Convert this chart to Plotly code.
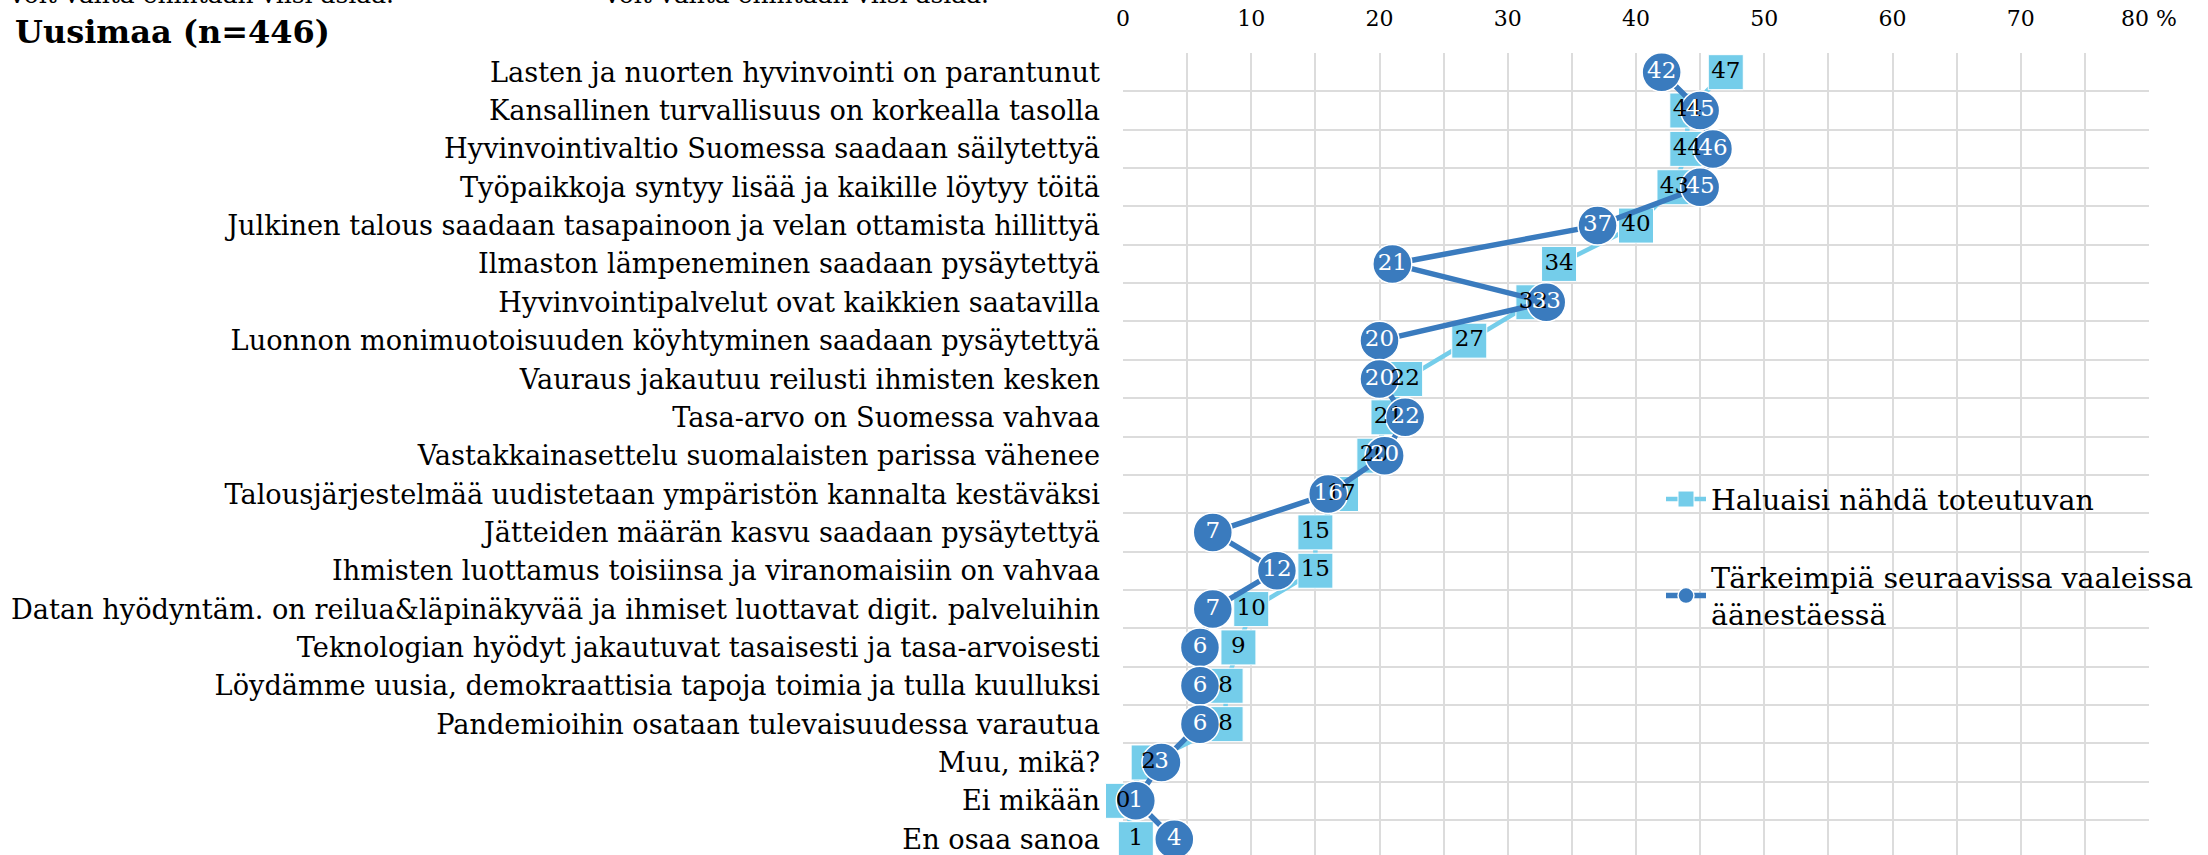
import plotly.graph_objects as go

# Statements, top to bottom
categories = [
    "Lasten ja nuorten hyvinvointi on parantunut",
    "Kansallinen turvallisuus on korkealla tasolla",
    "Hyvinvointivaltio Suomessa saadaan säilytettyä",
    "Työpaikkoja syntyy lisää ja kaikille löytyy töitä",
    "Julkinen talous saadaan tasapainoon ja velan ottamista hillittyä",
    "Ilmaston lämpeneminen saadaan pysäytettyä",
    "Hyvinvointipalvelut ovat kaikkien saatavilla",
    "Luonnon monimuotoisuuden köyhtyminen saadaan pysäytettyä",
    "Vauraus jakautuu reilusti ihmisten kesken",
    "Tasa-arvo on Suomessa vahvaa",
    "Vastakkainasettelu suomalaisten parissa vähenee",
    "Talousjärjestelmää uudistetaan ympäristön kannalta kestäväksi",
    "Jätteiden määrän kasvu saadaan pysäytettyä",
    "Ihmisten luottamus toisiinsa ja viranomaisiin on vahvaa",
    "Datan hyödyntäm. on reilua&läpinäkyvää ja ihmiset luottavat digit. palveluihin",
    "Teknologian hyödyt jakautuvat tasaisesti ja tasa-arvoisesti",
    "Löydämme uusia, demokraattisia tapoja toimia ja tulla kuulluksi",
    "Pandemioihin osataan tulevaisuudessa varautua",
    "Muu, mikä?",
    "Ei mikään",
    "En osaa sanoa",
]

# Share of respondents (%)
haluaisi = [47, 44, 44, 43, 40, 34, 32, 27, 22, 20.7, 19.6, 17, 15, 15, 10, 9, 8, 8, 2, 0, 1]
tarkeimpia = [42, 45, 46, 45, 37, 21, 33, 20, 20, 22, 20.4, 16, 7, 12, 7, 6, 6, 6, 3, 1, 4]

name_haluaisi = "Haluaisi nähdä toteutuvan"
name_tarkeimpia = "Tärkeimpiä seuraavissa vaaleissa<br>äänestäessä"

x_ticks = [0, 10, 20, 30, 40, 50, 60, 70, 80]
x_ticktext = ["0", "10", "20", "30", "40", "50", "60", "70", "80 %"]

LIGHT = "#74CDEA"
DARK = "#3A7BBE"
SERIF = "DejaVu Serif"

rows = list(range(len(categories)))


def labels(values):
    return [str(int(round(v))) for v in values]


fig = go.Figure()

fig.add_trace(go.Scatter(
    x=haluaisi, y=rows, mode="lines+markers", name=name_haluaisi,
    line=dict(color=LIGHT, width=4.5),
    marker=dict(symbol="square", size=35, color=LIGHT, line=dict(color="white", width=1)),
    legendgroup="a", cliponaxis=False,
))
fig.add_trace(go.Scatter(
    x=tarkeimpia, y=rows, mode="lines+markers", name=name_tarkeimpia,
    line=dict(color=DARK, width=5.5),
    marker=dict(symbol="circle", size=39, color=DARK, line=dict(color="white", width=1.5)),
    legendgroup="b", cliponaxis=False,
))
# Value labels drawn above all markers
fig.add_trace(go.Scatter(
    x=haluaisi, y=rows, mode="text", text=labels(haluaisi), showlegend=False,
    textposition="middle center", textfont=dict(family=SERIF, size=23, color="black"),
    cliponaxis=False,
))
fig.add_trace(go.Scatter(
    x=tarkeimpia, y=rows, mode="text", text=labels(tarkeimpia), showlegend=False,
    textposition="middle center", textfont=dict(family=SERIF, size=23, color="white"),
    cliponaxis=False,
))

PLOT_TOP = 53
PLOT_H = 855 - PLOT_TOP
ROW_H = 38.35
y_bottom = -0.5 + PLOT_H / ROW_H


def paper_y(px):
    return 1 + (PLOT_TOP - px) / PLOT_H


PLOT_L = 1123
PLOT_R = 2149
PLOT_W = PLOT_R - PLOT_L


def paper_x(px):
    return (px - PLOT_L) / PLOT_W


fig.update_layout(
    width=2208, height=855,
    margin=dict(l=PLOT_L, r=2208 - PLOT_R, t=PLOT_TOP, b=0, pad=0, autoexpand=False),
    paper_bgcolor="white", plot_bgcolor="white",
    font=dict(family=SERIF, color="black"),
    showlegend=True,
    legend=dict(
        x=paper_x(1661), y=paper_y(474), xanchor="left", yanchor="top",
        bgcolor="rgba(0,0,0,0)", font=dict(family=SERIF, size=28.5, color="black"),
        tracegroupgap=38, itemwidth=40,
    ),
    xaxis=dict(
        side="top", range=[0, 80], tickmode="array", tickvals=x_ticks, ticktext=x_ticktext,
        showgrid=True, gridcolor="#DCDCDC", gridwidth=1.5, zeroline=False, showline=False,
        ticks="", ticklabelstandoff=22, tickfont=dict(family=SERIF, size=22, color="black"),
        minor=dict(tickvals=list(range(0, 81, 5)), showgrid=True, gridcolor="#DCDCDC", gridwidth=1.5),
    ),
    yaxis=dict(
        range=[y_bottom, -0.5], tickmode="array", tickvals=rows, ticktext=categories,
        showgrid=False, zeroline=False, showline=False, ticks="",
        ticklabelstandoff=22, tickfont=dict(family=SERIF, size=27.2, color="black"),
        minor=dict(tickvals=[r + 0.5 for r in range(-1, len(categories))],
                   showgrid=True, gridcolor="#DCDCDC", gridwidth=1.5),
    ),
    annotations=[
        dict(text="<b>Uusimaa (n=446)</b>", xref="paper", yref="paper",
             x=paper_x(13), y=paper_y(32), xanchor="left", yanchor="middle",
             showarrow=False, font=dict(family=SERIF, size=32, color="black")),
        dict(text="Voit valita enintään viisi asiaa.", xref="paper", yref="paper",
             x=paper_x(5), y=paper_y(-5), xanchor="left", yanchor="middle",
             showarrow=False, font=dict(family=SERIF, size=25, color="black")),
        dict(text="Voit valita enintään viisi asiaa.", xref="paper", yref="paper",
             x=paper_x(600), y=paper_y(-5), xanchor="left", yanchor="middle",
             showarrow=False, font=dict(family=SERIF, size=25, color="black")),
    ],
)

fig.write_html("out.html")
